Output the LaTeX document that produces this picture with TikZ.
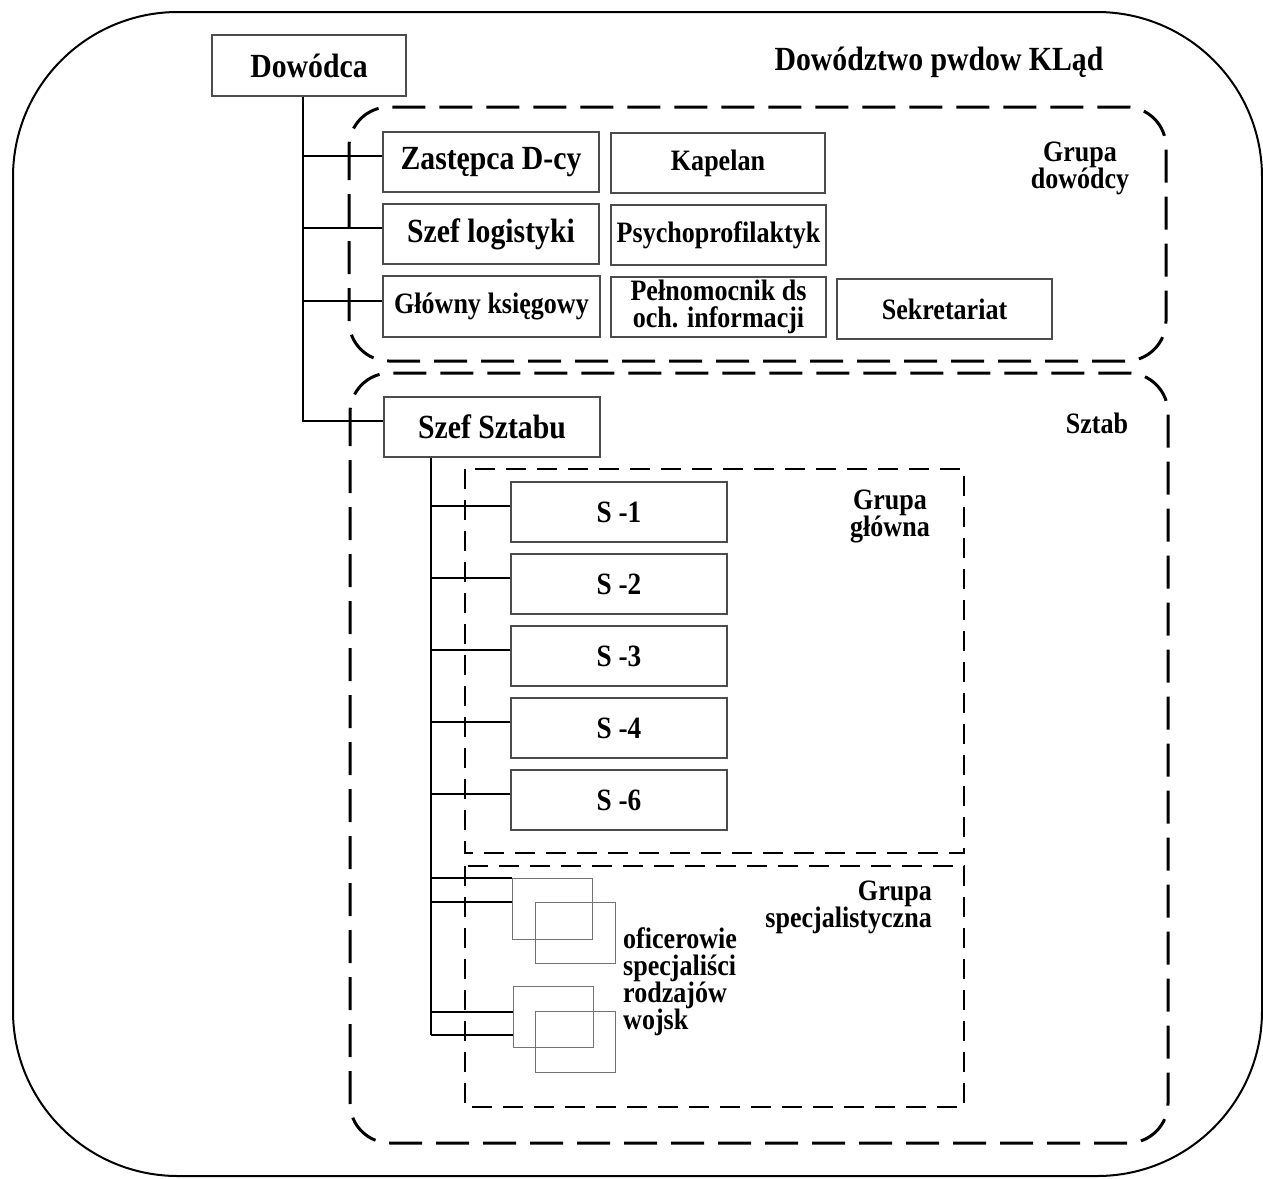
\documentclass[tikz,border=0pt]{standalone}
\usepackage{fontspec}
\setmainfont{Liberation Serif}[FakeStretch=0.88]
\newcommand\fbig{\fontsize{33.8}{33}\selectfont\bfseries}
\newcommand\fsmall{\fontsize{29.6}{27}\selectfont\bfseries}
\newcommand\fss{\fontsize{31}{30}\selectfont\bfseries}
\begin{document}
\begin{tikzpicture}[x=1pt,y=-1pt,
  boxn/.style={draw=black!70, line width=1.1pt, inner sep=0pt, align=center},
  sbox/.style={draw=black!55, line width=0.9pt, inner sep=0pt, minimum width=80pt, minimum height=61pt},
  lbl/.style={inner sep=0pt},
  grpdash/.style={line width=3pt, dash pattern=on 33pt off 14pt, rounded corners=40pt},
  subdash/.style={line width=1.8pt, dash pattern=on 20pt off 11pt},
  conn/.style={line width=2pt}]
\useasboundingbox (0,0) rectangle (1263,1178);
% outer frame
\draw[line width=2pt, rounded corners=165pt] (13,12) rectangle (1262,1176);
% groups
\draw[grpdash] (349,107) rectangle (1166,361);
\draw[grpdash] (350,373) rectangle (1168,1143);
\draw[subdash] (465,469) rectangle (964,853);
\draw[subdash] (465,866) rectangle (964,1107);
% labels
\node[lbl, font=\fbig] (title) at (939,62) {Dowództwo pwdow KLąd};
\node[lbl, font=\fsmall, align=center] (gd) at (1080,168) {Grupa\\dowódcy};
\node[lbl, font=\fsmall] (sztab) at (1097,423) {Sztab};
\node[lbl, font=\fsmall, align=center] (gg) at (890,516) {Grupa\\główna};
\node[lbl, font=\fsmall, align=right, anchor=east] (gs) at (932,907) {Grupa\\specjalistyczna};
\node[lbl, font=\fsmall, align=left, anchor=west] (of) at (623,982) {oficerowie\\specjaliści\\rodzajów\\wojsk};
% boxes
\node[boxn, font=\fbig, minimum width=194pt, minimum height=61pt] (dow) at (309,65.5) {Dowódca};
\node[boxn, font=\fbig, minimum width=216pt, minimum height=60pt] (zast) at (491,162) {Zastępca D-cy};
\node[boxn, font=\fsmall, minimum width=214pt, minimum height=60pt] (kap) at (718,163) {Kapelan};
\node[boxn, font=\fbig, minimum width=216pt, minimum height=60pt] (szl) at (491,234) {Szef logistyki};
\node[boxn, font=\fsmall, minimum width=215pt, minimum height=60pt] (psy) at (718.5,235) {Psychoprofilaktyk};
\node[boxn, font=\fsmall, minimum width=217pt, minimum height=61pt] (glo) at (491.5,306.5) {Główny księgowy};
\node[boxn, font=\fsmall, minimum width=215pt, minimum height=60pt] (pel) at (718.5,307) {Pełnomocnik ds\\och. informacji};
\node[boxn, font=\fsmall, minimum width=215pt, minimum height=60pt] (sek) at (944.5,309) {Sekretariat};
\node[boxn, font=\fbig, minimum width=216pt, minimum height=60pt] (szs) at (492,427) {Szef Sztabu};
\node[boxn, font=\fss, minimum width=216pt, minimum height=60pt] (s1) at (619,512) {S -1};
\node[boxn, font=\fss, minimum width=216pt, minimum height=60pt] (s2) at (619,584) {S -2};
\node[boxn, font=\fss, minimum width=216pt, minimum height=60pt] (s3) at (619,656) {S -3};
\node[boxn, font=\fss, minimum width=216pt, minimum height=60pt] (s4) at (619,728) {S -4};
\node[boxn, font=\fss, minimum width=216pt, minimum height=60pt] (s6) at (619,800) {S -6};
\node[sbox] (bA) at (552,908.5) {};
\node[sbox] (bB) at (575,932.5) {};
\node[sbox] (bC) at (553,1017) {};
\node[sbox] (bD) at (575.5,1041.5) {};
% trunks
\coordinate (t1) at (303,0);
\coordinate (t2) at (431,0);
\draw[conn] (dow.south -| t1) |- ([yshift=6pt]szs.west);
\foreach \n in {zast,szl,glo}
  \draw[conn] ([yshift=6pt]\n.west -| t1) -- ([yshift=6pt]\n.west);
\draw[conn] (szs.south -| t2) -- ([yshift=-18pt]bC.west -| t2);
\foreach \n in {s1,s2,s3,s4,s6}
  \draw[conn] ([yshift=6pt]\n.west -| t2) -- ([yshift=6pt]\n.west);
\draw[conn] (bA.north west -| t2) -- (bA.north west);
\draw[conn] ([yshift=6.5pt]bA.west -| t2) -- ([yshift=6.5pt]bA.west);
\draw[conn] ([yshift=5pt]bC.west -| t2) -- ([yshift=5pt]bC.west);
\draw[conn] ([yshift=-18pt]bC.west -| t2) -- ([yshift=-18pt]bC.west);
\end{tikzpicture}
\end{document}
